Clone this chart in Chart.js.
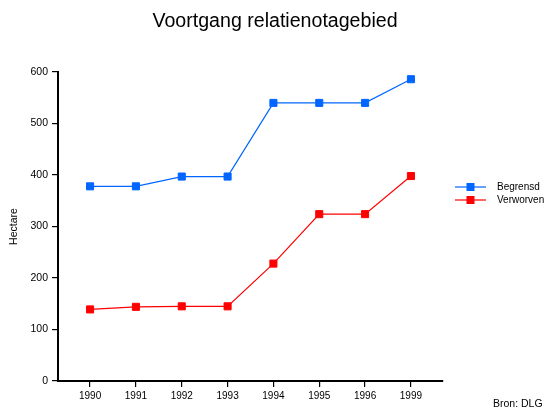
<!DOCTYPE html>
<html>
<head>
<meta charset="utf-8">
<script src="https://cdn.jsdelivr.net/npm/chart.js@4/dist/chart.umd.min.js"></script>
<style>
html,body{margin:0;padding:0;background:#fff;}
#wrap{width:544px;height:408px;position:relative;}
</style>
</head>
<body>
<div id="wrap"><canvas id="c" width="544" height="408"></canvas></div>
<script>
const years = ['1990','1991','1992','1993','1994','1995','1996','1999'];
const begrensd = [378, 378, 397, 397, 540, 540, 540, 586];
const verworven = [139, 144, 145, 145, 228, 324, 324, 398];
const yTicks = [0, 100, 200, 300, 400, 500, 600];
const titleText = 'Voortgang relatienotagebied';
const yTitle = 'Hectare';
const sourceText = 'Bron: DLG';
const seriesNames = ['Begrensd', 'Verworven'];
const seriesColors = ['#0066ff', '#ff0000'];

const FONT = '"Liberation Sans", Arial, Helvetica, sans-serif';

const toPts = arr => arr.map((v, i) => ({x: i, y: v}));

const extras = {
  id: 'extras',
  afterDraw(chart) {
    const ctx = chart.ctx;
    ctx.save();
    ctx.fillStyle = '#000';
    ctx.font = '19.6px ' + FONT;
    ctx.textAlign = 'center';
    ctx.textBaseline = 'alphabetic';
    ctx.fillText(titleText, 275, 27);
    // legend
    ctx.font = '10px ' + FONT;
    ctx.textAlign = 'left';
    ctx.textBaseline = 'middle';
    chart.data.datasets.forEach((ds, i) => {
      const y = 187 + i * 13;
      ctx.strokeStyle = ds.borderColor;
      ctx.lineWidth = 1.2;
      ctx.beginPath();
      ctx.moveTo(455, y);
      ctx.lineTo(486, y);
      ctx.stroke();
      ctx.fillStyle = ds.borderColor;
      ctx.fillRect(466.5, y - 4, 8, 8);
      ctx.fillStyle = '#000';
      ctx.fillText(ds.label, 497, y);
    });
    ctx.font = '10.5px ' + FONT;
    ctx.textAlign = 'left';
    ctx.fillText(sourceText, 493, 404);
    ctx.restore();
  }
};

new Chart(document.getElementById('c'), {
  type: 'line',
  data: {
    datasets: [
      {label: seriesNames[0], data: toPts(begrensd), borderColor: seriesColors[0], backgroundColor: seriesColors[0],
       borderWidth: 1.2, pointStyle: 'rect', pointRadius: 5, pointBorderWidth: 1, pointHoverRadius: 5, tension: 0},
      {label: seriesNames[1], data: toPts(verworven), borderColor: seriesColors[1], backgroundColor: seriesColors[1],
       borderWidth: 1.2, pointStyle: 'rect', pointRadius: 5, pointBorderWidth: 1, pointHoverRadius: 5, tension: 0}
    ]
  },
  options: {
    responsive: false,
    animation: false,
    events: [],
    layout: {padding: {top: 72, right: 101, bottom: 0, left: 0}},
    plugins: {legend: {display: false}, title: {display: false}, tooltip: {enabled: false}},
    scales: {
      x: {
        type: 'linear',
        min: -0.7, max: years.length - 1 + 0.7,
        afterBuildTicks(scale) { scale.ticks = years.map((y, i) => ({value: i})); },
        afterFit(scale) { scale.height = 27; },
        ticks: {
          callback: (v) => years[v],
          color: '#000', font: {family: FONT, size: 10}, padding: 3, maxRotation: 0, autoSkip: false
        },
        grid: {drawOnChartArea: false, drawTicks: true, tickLength: 6, color: '#000', lineWidth: 1.2},
        border: {display: true, color: '#000', width: 2}
      },
      y: {
        min: 0, max: 600,
        afterBuildTicks(scale) { scale.ticks = yTicks.map(v => ({value: v})); },
        afterFit(scale) { scale.width = 58; },
        ticks: {color: '#000', font: {family: FONT, size: 10.5}, padding: 4},
        grid: {drawOnChartArea: false, drawTicks: true, tickLength: 6, color: '#000', lineWidth: 1.2},
        border: {display: true, color: '#000', width: 2},
        title: {display: true, text: yTitle, color: '#000', font: {family: FONT, size: 10.5}, padding: {top: 8, bottom: 0}}
      }
    }
  },
  plugins: [extras]
});
</script>
</body>
</html>
